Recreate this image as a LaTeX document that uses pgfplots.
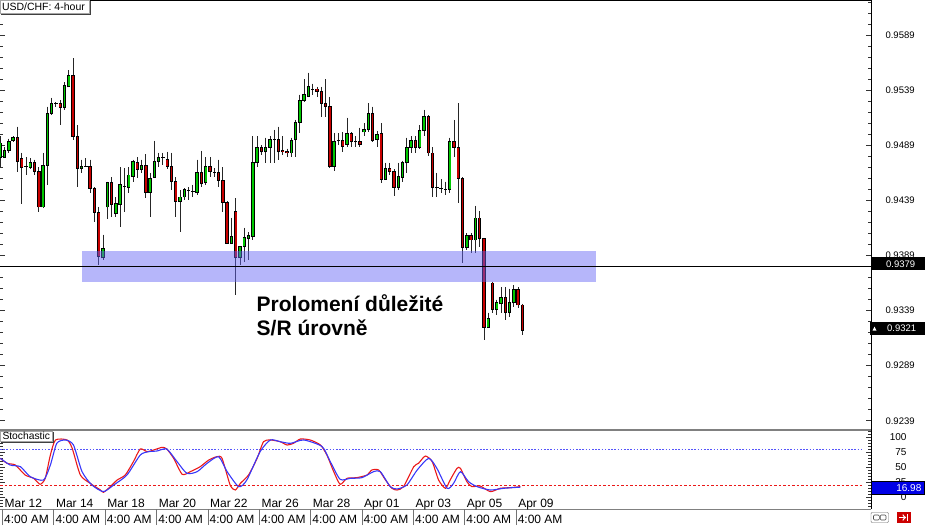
\documentclass[border=0pt]{standalone}
\usepackage{pgfplots}
\pgfplotsset{compat=1.18}
\usepackage{pgfplotstable}
\usepackage{fontspec}
\setmainfont{Liberation Sans}

\definecolor{bull}{RGB}{0,200,0}
\definecolor{bear}{RGB}{200,0,0}
\definecolor{zone}{RGB}{100,100,245}
\definecolor{stochred}{RGB}{235,25,25}
\definecolor{stochblue}{RGB}{55,55,250}

% i open high low close
\pgfplotstableread{
i o h l c
0 0.9478 0.9497 0.9469 0.9491
1 0.9478 0.9487 0.9477 0.9484
2 0.9484 0.9495 0.9482 0.9492
3 0.9493 0.9497 0.9492 0.9496
7 0.9469 0.9477 0.9467 0.9473
10 0.9433 0.9482 0.9432 0.9471
11 0.9471 0.9524 0.9453 0.9518
12 0.9518 0.9532 0.9516 0.9527
15 0.9523 0.9546 0.9521 0.9543
16 0.9542 0.9557 0.9542 0.9552
19 0.9468 0.9476 0.9464 0.9470
24 0.9387 0.9408 0.9385 0.9395
25 0.9433 0.9456 0.9422 0.9455
27 0.9427 0.9442 0.9424 0.9436
28 0.9435 0.9469 0.9415 0.9453
30 0.9451 0.9469 0.9446 0.9462
31 0.9461 0.9476 0.9456 0.9474
33 0.9467 0.9476 0.9464 0.9471
35 0.9446 0.9464 0.9424 0.9459
36 0.9460 0.9493 0.9459 0.9474
37 0.9474 0.9482 0.9469 0.9478
42 0.9438 0.9448 0.9410 0.9442
43 0.9442 0.9450 0.9439 0.9449
46 0.9446 0.9476 0.9444 0.9464
48 0.9455 0.9478 0.9453 0.9470
54 0.9400 0.9423 0.9399 0.9406
56 0.9387 0.9397 0.9380 0.9397
57 0.9397 0.9414 0.9383 0.9405
58 0.9404 0.9410 0.9385 0.9407
59 0.9406 0.9497 0.9403 0.9473
60 0.9473 0.9497 0.9469 0.9487
62 0.9483 0.9496 0.9473 0.9487
63 0.9487 0.9497 0.9473 0.9494
68 0.9482 0.9496 0.9478 0.9493
69 0.9494 0.9512 0.9478 0.9510
70 0.9510 0.9535 0.9500 0.9530
71 0.9530 0.9549 0.9528 0.9535
72 0.9533 0.9555 0.9533 0.9542
78 0.9470 0.9500 0.9466 0.9492
81 0.9490 0.9514 0.9487 0.9500
85 0.9501 0.9509 0.9497 0.9503
86 0.9503 0.9527 0.9501 0.9518
88 0.9494 0.9502 0.9487 0.9499
90 0.9458 0.9473 0.9458 0.9468
93 0.9451 0.9473 0.9448 0.9461
94 0.9460 0.9475 0.9456 0.9473
95 0.9473 0.9496 0.9464 0.9487
96 0.9487 0.9497 0.9482 0.9493
98 0.9487 0.9507 0.9486 0.9502
99 0.9502 0.9521 0.9497 0.9515
105 0.9449 0.9496 0.9446 0.9492
109 0.9396 0.9409 0.9394 0.9407
111 0.9403 0.9434 0.9391 0.9423
114 0.9324 0.9337 0.9323 0.9332
116 0.9340 0.9349 0.9335 0.9346
117 0.9345 0.9360 0.9337 0.9351
119 0.9337 0.9359 0.9333 0.9346
120 0.9346 0.9362 0.9342 0.9358
}\bulls

\pgfplotstableread{
i o h l c
4 0.9496 0.9506 0.9465 0.9474
5 0.9477 0.9482 0.9436 0.9469
8 0.9473 0.9476 0.9462 0.9465
9 0.9465 0.9469 0.9428 0.9433
14 0.9527 0.9530 0.9507 0.9523
17 0.9552 0.9568 0.9494 0.9497
18 0.9497 0.9507 0.9451 0.9468
21 0.9470 0.9476 0.9446 0.9450
22 0.9450 0.9451 0.9419 0.9428
23 0.9428 0.9433 0.9380 0.9388
26 0.9455 0.9460 0.9424 0.9435
32 0.9473 0.9478 0.9459 0.9467
34 0.9471 0.9481 0.9441 0.9446
39 0.9476 0.9483 0.9467 0.9470
40 0.9470 0.9482 0.9448 0.9456
41 0.9456 0.9460 0.9424 0.9438
47 0.9464 0.9484 0.9451 0.9454
49 0.9470 0.9478 0.9460 0.9465
51 0.9464 0.9476 0.9451 0.9457
52 0.9457 0.9469 0.9428 0.9437
53 0.9437 0.9438 0.9399 0.9400
55 0.9429 0.9441 0.9353 0.9387
61 0.9487 0.9489 0.9480 0.9483
65 0.9494 0.9506 0.9476 0.9483
66 0.9484 0.9497 0.9480 0.9483
67 0.9483 0.9486 0.9478 0.9482
74 0.9540 0.9542 0.9533 0.9538
75 0.9538 0.9542 0.9515 0.9527
76 0.9527 0.9549 0.9515 0.9524
77 0.9524 0.9533 0.9468 0.9470
80 0.9493 0.9501 0.9483 0.9488
82 0.9500 0.9501 0.9487 0.9492
84 0.9492 0.9505 0.9487 0.9490
87 0.9518 0.9524 0.9492 0.9493
89 0.9500 0.9509 0.9455 0.9458
91 0.9468 0.9473 0.9462 0.9465
92 0.9465 0.9467 0.9443 0.9451
97 0.9493 0.9497 0.9482 0.9487
100 0.9515 0.9516 0.9479 0.9482
101 0.9482 0.9487 0.9442 0.9451
106 0.9492 0.9512 0.9478 0.9487
107 0.9487 0.9527 0.9437 0.9459
108 0.9459 0.9460 0.9382 0.9396
110 0.9407 0.9409 0.9391 0.9403
112 0.9423 0.9429 0.9397 0.9404
113 0.9404 0.9405 0.9312 0.9324
115 0.9364 0.9365 0.9337 0.9340
118 0.9351 0.9360 0.9330 0.9337
121 0.9358 0.9360 0.9341 0.9344
122 0.9344 0.9345 0.9317 0.9321
}\bears

\pgfplotstableread{
i o h l c
6 0.9470 0.9478 0.9462 0.9470
13 0.9527 0.9528 0.9524 0.9527
20 0.9470 0.9477 0.9469 0.9470
29 0.9452 0.9468 0.9428 0.9452
38 0.9478 0.9482 0.9471 0.9478
44 0.9448 0.9451 0.9439 0.9448
45 0.9447 0.9453 0.9442 0.9447
50 0.9464 0.9468 0.9460 0.9464
64 0.9494 0.9503 0.9473 0.9494
73 0.9540 0.9545 0.9535 0.9540
79 0.9493 0.9500 0.9489 0.9493
83 0.9492 0.9497 0.9487 0.9492
102 0.9451 0.9464 0.9442 0.9451
103 0.9450 0.9458 0.9446 0.9450
104 0.9449 0.9456 0.9444 0.9449
}\dojis

% stochastic lines (x in candle units)
\pgfplotstableread{
x v
0 64.6
1.6 56.3
3.5 53.6
5.8 37.1
7.8 31.6
9.3 21.7
10.5 31.6
11.7 70.1
12.9 94.9
15.6 94.9
16.8 81.1
18.7 37.1
21 23.3
23.4 12.3
24.1 8.5
25.7 17.8
27.3 28.8
29.2 37.1
31.1 59.1
32.7 80
34.3 75.6
35.8 78.3
37.8 82.8
38.9 80
40.5 64.6
42.5 38.2
44.4 42.6
46.7 50.8
48.7 61.8
50.6 67.3
51.8 64.6
53.7 20.6
54.9 12.3
56.1 23.3
58 37.1
60 64.6
61.5 92.1
63.1 94.9
65.4 92.1
67 86.6
68.5 89.4
70.1 96.5
72.4 94.9
74.8 86.6
76.3 70.1
77.9 42.6
79.4 21.7
81 31.6
83.3 32.7
85.7 37.1
86.8 45.3
88.4 45.3
90 28.8
91.5 15.1
92.7 12.3
94.2 17.8
96.6 50.8
97.7 56.3
99.3 68.4
100.9 59.1
102.4 28.8
104 15.1
105.1 28.8
106.7 48.1
107.5 48.1
109 26.1
110.2 17.8
112.1 18.9
114.5 9.6
116.8 15.1
119.2 16.2
121.5 17.8
}\stochred

\pgfplotstableread{
x v
0 64.6
2.3 53.6
4.7 50.8
7 34.3
10.1 28.8
11.7 53.6
13.2 89.4
15.2 94.9
17.1 86.6
19.1 42.6
21.4 20.6
24.1 9.6
26.5 20.6
29.6 37.1
32.7 70.1
34.7 75.6
36.6 76.7
38.9 80
41.3 59.1
43.6 39.8
46 42.6
48.3 56.3
51 67.3
53 42.6
55.7 17.8
57.6 28.8
60.7 75.6
63.1 94.9
65.4 92.1
67.8 89.4
70.9 94.9
75.2 83.9
77.1 59.1
79.4 29.9
81.8 31.6
84.5 32.7
87.2 42.6
88.8 42.6
91.1 17.8
92.7 14
95 20.6
97.4 45.3
100.1 64.6
102 48.1
104.4 15.1
105.9 23.3
107.5 42.6
109.4 26.1
111.4 17.8
114.5 12.3
117.6 15.1
121.5 17
}\stochblue

\pgfplotsset{
  nomark/.style={only marks, mark=*, mark size=0pt, mark options={draw=none, fill=none}, forget plot},
  wick/.style={nomark,
    error bars/.cd, y dir=minus, y explicit, error mark=none,
    error bar style={draw=black!85, line width=0.9pt}},
  bodyblack/.style={nomark,
    error bars/.cd, y dir=plus, y explicit, error mark=none,
    error bar style={draw=black, line width=3.4pt}},
  bodyfill/.style={nomark,
    error bars/.cd, y dir=plus, y explicit, error mark=none,
    error bar style={draw=#1, line width=1.6pt}},
}

\begin{document}
\begin{tikzpicture}[x=1pt,y=1pt]
\useasboundingbox (0,0) rectangle (925,525);

% ---------------- price panel ----------------
\begin{axis}[
  at={(0pt,95pt)}, anchor=south west,
  width=871pt, height=430pt, scale only axis,
  xmin=-0.07, xmax=203.43,
  ymin=0.92306, ymax=0.96208,
  axis line style={draw=none},
  xtick=\empty,
  ytick={0.9239,0.9289,0.9339,0.9389,0.9439,0.9489,0.9539,0.9589},
  minor ytick={0.9239,0.9249,...,0.9619},
  ytick pos=both, yticklabel pos=right,
  tick align=inside,
  major tick length=5pt, minor tick length=3pt,
  every tick/.style={black!80, line width=0.6pt},
  yticklabel style={font=\fontsize{9.5}{10}\selectfont, xshift=11pt,
    /pgf/number format/.cd, fixed, fixed zerofill, precision=4, assume math mode=true},
  clip=true,
]
% wicks
\addplot[wick] table[x=i, y=h, y error minus expr={\thisrow{h}-\thisrow{l}}] \bulls;
\addplot[wick] table[x=i, y=h, y error minus expr={\thisrow{h}-\thisrow{l}}] \bears;
\addplot[wick] table[x=i, y=h, y error minus expr={\thisrow{h}-\thisrow{l}}] \dojis;
% bodies (outline)
\addplot[bodyblack] table[x=i, y expr={min(\thisrow{o},\thisrow{c})-0.00004}, y error plus expr={abs(\thisrow{c}-\thisrow{o})+0.00008}] \bulls;
\addplot[bodyblack] table[x=i, y expr={min(\thisrow{o},\thisrow{c})-0.00004}, y error plus expr={abs(\thisrow{c}-\thisrow{o})+0.00008}] \bears;
\addplot[bodyblack] table[x=i, y expr={min(\thisrow{o},\thisrow{c})-0.00004}, y error plus expr={abs(\thisrow{c}-\thisrow{o})+0.00008}] \dojis;
% bodies (fill)
\addplot[bodyfill=bull] table[x=i, y expr={min(\thisrow{o},\thisrow{c})+0.00004}, y error plus expr={max(abs(\thisrow{c}-\thisrow{o})-0.00008,0)}] \bulls;
\addplot[bodyfill=bear] table[x=i, y expr={min(\thisrow{o},\thisrow{c})+0.00004}, y error plus expr={max(abs(\thisrow{c}-\thisrow{o})-0.00008,0)}] \bears;
% support/resistance zone
\addplot[draw=none, fill=zone, fill opacity=0.47, forget plot]
  coordinates {(19.09,0.93649) (139.2,0.93649) (139.2,0.93930) (19.09,0.93930)};
% level line
\addplot[black, line width=1.8pt, forget plot] coordinates {(-0.07,0.9379) (203.43,0.9379)};
\end{axis}

% ---------------- stochastic panel ----------------
\begin{axis}[
  at={(0pt,16pt)}, anchor=south west,
  width=871pt, height=79pt, scale only axis,
  xmin=-0.07, xmax=203.43,
  ymin=-19.1, ymax=111.4,
  axis line style={draw=none},
  xtick=\empty,
  ytick={0,25,50,75,100},
  minor ytick={-15,-10,...,110},
  ytick pos=both, yticklabel pos=right,
  tick align=inside,
  major tick length=5pt, minor tick length=3pt,
  every tick/.style={black!80, line width=0.6pt},
  yticklabel style={font=\fontsize{10}{11}\selectfont, anchor=east, xshift=39pt,
    /pgf/number format/assume math mode=true},
  clip=true,
]
\addplot[stochblue!85, dash pattern=on 1.6pt off 1.6pt, line width=0.9pt, forget plot]
  coordinates {(-0.07,80) (201.3,80)};
\addplot[stochred, dash pattern=on 2.5pt off 2pt, line width=0.9pt, forget plot]
  coordinates {(-0.07,20) (201.3,20)};
\addplot[stochred, line width=1.1pt, smooth, tension=0.4] table[x=x, y=v] \stochred;
\addplot[stochblue, line width=1.1pt, smooth, tension=0.4] table[x=x, y=v] \stochblue;
\end{axis}

% ---------------- frame ----------------
\draw[black, line width=1pt] (0,524.5) -- (871,524.5);
\draw[black, line width=0.8pt] (871,525) -- (871,16);
\draw[black!50, line width=1.8pt] (0,95) -- (871,95);
\draw[black!50, line width=1pt] (0,16) -- (871,16);

% title box
\draw[black!35, fill=white] (0.5,511.5) rectangle (89.5,524.5);
\draw[black!75, line width=0.9pt] (90,524) -- (90,511) -- (1,511);
\node[anchor=base west, inner sep=0, font=\fontsize{10.5}{12}\selectfont] at (1.8,514.4) {USD/CHF: 4-hour};

% stochastic box
\draw[black!35, fill=white] (0.5,83.5) rectangle (52.5,94);
\draw[black!75, line width=0.9pt] (53,93.5) -- (53,83) -- (1,83);
\node[anchor=base west, inner sep=0, font=\fontsize{10.3}{12}\selectfont] at (2.3,85.2) {Stochastic};

% annotation
\node[anchor=base west, inner sep=0, font=\fontsize{21}{23}\selectfont\bfseries] at (256.5,213.3) {Prolomení důležité};
\node[anchor=base west, inner sep=0, font=\fontsize{21}{23}\selectfont\bfseries] at (256.5,190) {S/R úrovně};

% price labels
\fill[black] (871,254.5) rectangle (925,267.5);
\node[anchor=base west, inner sep=0, text=white, font=\fontsize{9.5}{10}\selectfont] at (886,257.7) {0.9379};
\fill[black] (870,190.5) rectangle (925,203.5);
\fill[white] (872.5,194.3) -- (876.5,194.3) -- (874.5,198.3) -- cycle;
\node[anchor=base west, inner sep=0, text=white, font=\fontsize{9.5}{10}\selectfont] at (887,193.7) {0.9321};
\filldraw[fill={rgb,255:red,0;green,0;blue,230}, draw=black, line width=0.8pt] (871.5,31) rectangle (924,44);
\node[anchor=base east, inner sep=0, text=white, font=\fontsize{10}{11}\selectfont] at (921.5,33.8) {16.98};

% date labels
\foreach \k/\dd in {0/Mar 12,1/Mar 14,2/Mar 18,3/Mar 20,4/Mar 22,5/Mar 26,6/Mar 28,7/Apr 01,8/Apr 03,9/Apr 05,10/Apr 09}{
  \pgfmathsetmacro{\sx}{2.5+51.36*\k}
  \draw[black!55, line width=0.8pt] (\sx,0) -- (\sx,16);
  \node[anchor=base west, inner sep=0, font=\fontsize{12}{13}\selectfont] at (\sx+2,17.6) {\dd};
  \node[anchor=base west, inner sep=0, font=\fontsize{12}{13}\selectfont] at (\sx+1.5,2) {4:00 AM};
}

% icons
\draw[black!60, fill=white, rounded corners=1pt] (871,2.5) rectangle (888.5,12.5);
\draw[black!70, line width=0.6pt, rounded corners=1pt] (873.5,5) rectangle (879.3,10);
\draw[black!70, line width=0.6pt, rounded corners=1pt] (880.2,5) rectangle (886,10);
\fill[red!80!black] (897,2) rectangle (910.5,13);
\draw[white, line width=1.3pt, ->] (899,7.5) -- (906,7.5);
\draw[white, line width=1.3pt] (907.8,4) -- (907.8,11);
\end{tikzpicture}
\end{document}
